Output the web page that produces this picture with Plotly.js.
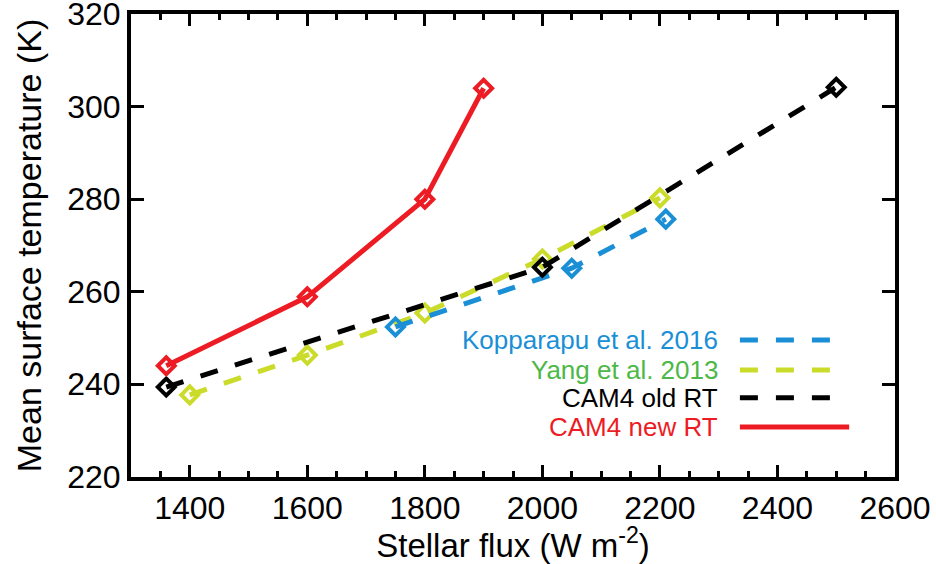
<!DOCTYPE html>
<html>
<head>
<meta charset="utf-8">
<script src="https://cdn.plot.ly/plotly-3.0.1.min.js"></script>
<style>html,body{margin:0;padding:0;background:#fff;}#chart{width:936px;height:564px;}</style>
</head>
<body>
<div id="chart"></div>
<script>
// Data
const kopFlux = [1750, 2050, 2210];
const kopTemp = [252.4, 265.1, 275.7];
const yangFlux = [1400, 1600, 1800, 2000, 2200];
const yangTemp = [237.7, 246.3, 255.4, 267.1, 280.3];
const oldFlux = [1360, 2000, 2500];
const oldTemp = [239.4, 265.3, 304.2];
const newFlux = [1360, 1600, 1800, 1900];
const newTemp = [244.0, 258.9, 280.0, 304.0];
const legendNames = ["Kopparapu et al. 2016", "Yang et al. 2013", "CAM4 old RT", "CAM4 new RT"];
const xTicks = [1400, 1600, 1800, 2000, 2200, 2400, 2600];
const yTicks = [220, 240, 260, 280, 300, 320];

const BLUE = "#1b8fd6", YLINE = "#cbdb2a", YTEXT = "#4db848", BLACK = "#000000", RED = "#ed1c24";
const FONT = "Liberation Sans, Arial, sans-serif";

function tr(x, y, color, dash) {
  return {
    x: x, y: y, type: "scatter", mode: "lines+markers", showlegend: false, cliponaxis: false,
    line: {color: color, width: 5, dash: dash},
    marker: {symbol: "diamond-open", size: 13, color: color, line: {color: color, width: 4}}
  };
}
const data = [
  tr(yangFlux, yangTemp, YLINE, "18px,18px"),
  tr(kopFlux, kopTemp, BLUE, "18px,18px"),
  tr(oldFlux, oldTemp, BLACK, "18px,18px"),
  tr(newFlux, newTemp, RED, "solid")
];

// legend as annotations + sample lines (paper coords)
const legColors = [BLUE, YTEXT, BLACK, RED];
const legLine = [BLUE, YLINE, BLACK, RED];
const legDash = ["18px,18px", "18px,18px", "18px,18px", "solid"];
const legEnd = [0.915, 0.915, 0.915, 0.940];
const legY = [0.296, 0.231, 0.171, 0.108];
const annotations = legendNames.map((n, i) => ({
  xref: "paper", yref: "paper", x: 0.771, y: legY[i], xanchor: "right", yanchor: "middle",
  text: n, showarrow: false, font: {family: FONT, size: 26, color: legColors[i]}
}));
const shapes = legendNames.map((n, i) => ({
  type: "line", xref: "paper", yref: "paper", x0: 0.797, x1: legEnd[i], y0: legY[i], y1: legY[i],
  line: {color: legLine[i], width: 5, dash: legDash[i]}
}));

const axisCommon = {
  showgrid: false, zeroline: false, showline: true, linecolor: "#000", linewidth: 4,
  mirror: "ticks", ticks: "inside", tickcolor: "#000", tickwidth: 3,
  ticklabeloverflow: "allow",
  tickfont: {family: FONT, size: 32, color: "#000"}
};
const layout = {
  width: 936, height: 564,
  margin: {l: 131, r: 41, t: 14, b: 87},
  paper_bgcolor: "#fff", plot_bgcolor: "#fff",
  font: {family: FONT, color: "#000"},
  xaxis: Object.assign({}, axisCommon, {
    range: [1300, 2600], tickmode: "array", tickvals: xTicks,
    ticklen: 12,
    minor: {dtick: 50, tick0: 1300, ticks: "inside", ticklen: 6, tickwidth: 3, tickcolor: "#000"},
    title: {text: "Stellar flux (W m<sup>-2</sup>)", font: {family: FONT, size: 33}, standoff: 2}
  }),
  yaxis: Object.assign({}, axisCommon, {
    range: [219.95, 320.05], tickmode: "array", tickvals: yTicks, ticklen: 13,
    title: {text: "Mean surface temperature (K)", font: {family: FONT, size: 34}, standoff: 16}
  }),
  annotations: annotations,
  shapes: shapes
};
Plotly.newPlot("chart", data, layout, {displayModeBar: false, staticPlot: true});
</script>
</body>
</html>
